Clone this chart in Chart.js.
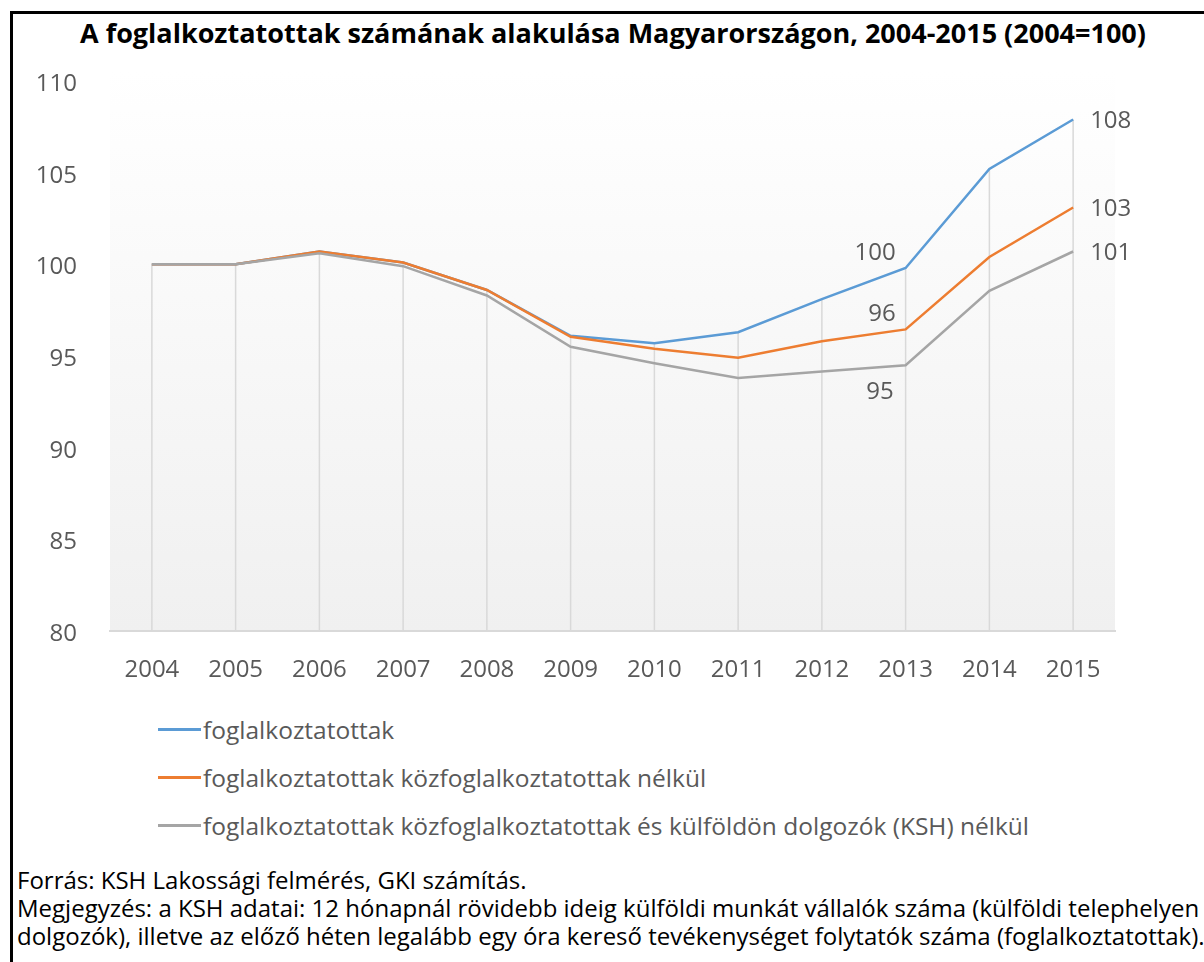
<!DOCTYPE html>
<html>
<head>
<meta charset="utf-8">
<script src="https://cdn.jsdelivr.net/npm/chart.js@4.4.0/dist/chart.umd.min.js"></script>
<style>
  body { margin:0; background:#fff; width:1204px; height:962px; overflow:hidden; position:relative; font-family:"Open Sans", sans-serif; }
  #frame { position:absolute; left:10px; top:11px; width:1300px; height:1100px; border-left:3px solid #000; border-top:3px solid #000; }
  #title { position:absolute; left:0; width:1226px; top:14px; text-align:center; font-weight:bold; font-size:27px; color:#000; white-space:nowrap; }
  #chartBox { position:absolute; left:0; top:0; width:1204px; height:700px; }
  #legend { position:absolute; left:158px; top:705px; }
  .leg { height:48px; display:flex; align-items:center; font-size:24.5px; color:#595959; white-space:nowrap; }
  .leg span.ln { display:inline-block; width:43px; height:3px; margin-right:2px; }
  #notes { position:absolute; left:17px; top:866px; font-size:24px; color:#000; line-height:28px; white-space:nowrap; }
</style>
</head>
<body>
<div id="frame"></div>
<div id="title">A foglalkoztatottak számának alakulása Magyarországon, 2004-2015 (2004=100)</div>
<div id="chartBox"><canvas id="chart"></canvas></div>
<div id="legend"></div>
<div id="notes">
  Forrás: KSH Lakossági felmérés, GKI számítás.<br>
  Megjegyzés: a KSH adatai: 12 hónapnál rövidebb ideig külföldi munkát vállalók száma (külföldi telephelyen<br>
  dolgozók), illetve az előző héten legalább egy óra kereső tevékenységet folytatók száma (foglalkoztatottak).
</div>
<script>
var years = ["2004","2005","2006","2007","2008","2009","2010","2011","2012","2013","2014","2015"];
var foglalk = [100, 100, 100.7, 100.1, 98.6, 96.1, 95.7, 96.3, 98.1, 99.8, 105.2, 107.9];
var kozNelkul = [100, 100, 100.7, 100.1, 98.6, 96.05, 95.4, 94.9, 95.8, 96.45, 100.4, 103.1];
var kulfNelkul = [100, 100, 100.6, 99.9, 98.3, 95.5, 94.6, 93.8, 94.15, 94.5, 98.55, 100.7];
var seriesNames = ["foglalkoztatottak",
  "foglalkoztatottak közfoglalkoztatottak nélkül",
  "foglalkoztatottak közfoglalkoztatottak és külföldön dolgozók (KSH) nélkül"];
var colors = ["#5B9BD5", "#ED7D31", "#A5A5A5"];

// which points get a value label, and on which side
var pointLabels = [
  {ds:0, i:9, side:"leftUp"}, {ds:1, i:9, side:"leftUp"}, {ds:2, i:9, side:"leftDown"},
  {ds:0, i:11, side:"right"}, {ds:1, i:11, side:"right"}, {ds:2, i:11, side:"right"}
];

var bgPlugin = {
  id: "bg",
  beforeDraw: function(chart) {
    var c = chart.ctx, a = chart.chartArea;
    var g = c.createLinearGradient(0, a.top - 10, 0, a.bottom);
    g.addColorStop(0, "#ffffff");
    g.addColorStop(1, "#f0f0f0");
    c.save();
    c.fillStyle = g;
    c.fillRect(a.left, a.top - 10, a.right - a.left, a.bottom - a.top + 10);
    c.restore();
  },
  beforeDatasetsDraw: function(chart) {
    // drop lines from highest series down to axis
    var c = chart.ctx, x = chart.scales.x, y = chart.scales.y;
    c.save();
    c.strokeStyle = "#d9d9d9";
    c.lineWidth = 1.5;
    for (var i = 0; i < years.length; i++) {
      var mx = Math.max(foglalk[i], kozNelkul[i], kulfNelkul[i]);
      var px = x.getPixelForValue(i);
      c.beginPath();
      c.moveTo(px, y.getPixelForValue(mx));
      c.lineTo(px, chart.chartArea.bottom);
      c.stroke();
    }
    c.restore();
  },
  afterDatasetsDraw: function(chart) {
    var c = chart.ctx;
    c.save();
    c.font = "24px 'Open Sans'";
    c.fillStyle = "#595959";
    c.textBaseline = "middle";
    pointLabels.forEach(function(p) {
      var el = chart.getDatasetMeta(p.ds).data[p.i];
      var v = chart.data.datasets[p.ds].data[p.i];
      var t = String(Math.round(v));
      if (p.side == "right") {
        c.textAlign = "left";
        c.fillText(t, el.x + 17, el.y + 2);
      } else if (p.side == "leftUp") {
        c.textAlign = "right";
        c.fillText(t, el.x - 10, el.y - 15);
      } else {
        c.textAlign = "right";
        c.fillText(t, el.x - 12, el.y + 27);
      }
    });
    c.restore();
  }
};

var ctx = document.getElementById("chart").getContext("2d");
var data = [foglalk, kozNelkul, kulfNelkul];
var chart = new Chart(ctx, {
  type: "line",
  data: {
    labels: years,
    datasets: data.map(function(d, k) {
      return {
        label: seriesNames[k],
        data: d,
        borderColor: colors[k],
        backgroundColor: colors[k],
        borderWidth: 2.5,
        pointRadius: 0,
        tension: 0,
        order: 3 - k
      };
    })
  },
  options: {
    responsive: true,
    maintainAspectRatio: false,
    animation: false,
    layout: { padding: { left: 20, right: 89, top: 81, bottom: 0 } },
    plugins: {
      legend: { display: false },
      tooltip: { enabled: false }
    },
    scales: {
      x: {
        offset: true,
        grid: { display: true, drawOnChartArea: false, drawTicks: false },
        border: { display: true, color: "#d9d9d9", width: 2 },
        ticks: { color: "#595959", font: { family: "Open Sans", size: 24 }, padding: 25, maxRotation: 0 },
        afterFit: function(s) { s.height = 69; }
      },
      y: {
        min: 80,
        max: 110,
        grid: { display: false },
        border: { display: false },
        ticks: { stepSize: 5, color: "#595959", font: { family: "Open Sans", size: 24 }, padding: 25, labelOffset: 3 },
        afterFit: function(s) { s.width = 90; }
      }
    }
  },
  plugins: [bgPlugin]
});

var leg = document.getElementById("legend");
chart.data.datasets.forEach(function(ds) {
  var row = document.createElement("div");
  row.className = "leg";
  row.innerHTML = '<span class="ln" style="background:' + ds.borderColor + '"></span>' + ds.label;
  leg.appendChild(row);
});
</script>
</body>
</html>
